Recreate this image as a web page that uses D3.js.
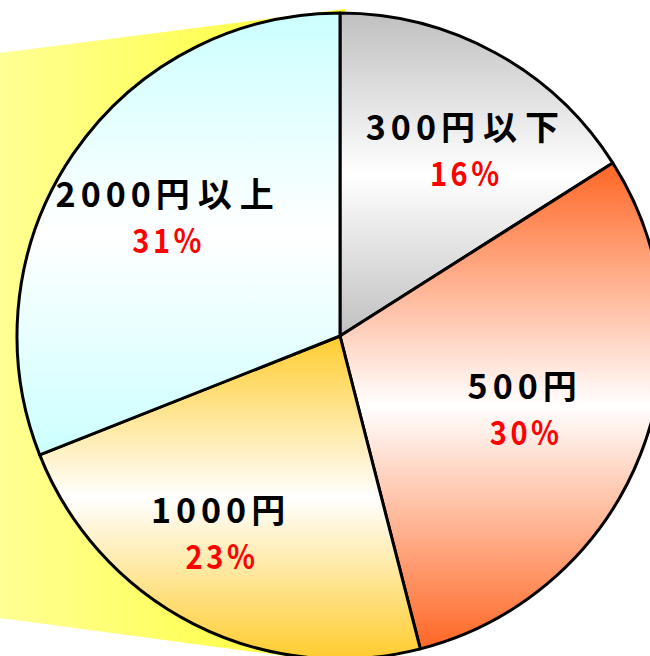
<!DOCTYPE html>
<html><head><meta charset="utf-8">
<script src="https://cdn.jsdelivr.net/npm/d3@7"></script>
<style>html,body{margin:0;padding:0;background:#fff;overflow:hidden}</style>
</head><body>
<svg id="c" width="650" height="656"></svg>
<script>
const categories = ["300円以下", "500円", "1000円", "2000円以上"];
const values = [16, 30, 23, 31];
const percentLabels = ["16%", "30%", "23%", "31%"];
const sliceColors = ["#c0c0c0", "#ff6624", "#ffcc2e", "#ccffff"];
// label placement nudges relative to arc centroid (layout only)
const labelNudge = [[33, -12], [6, 6], [-30, 28], [-11, -6]];

const svg = d3.select("#c");
const cx = 340, cy = 336, R = 323;

const defs = svg.append("defs");
const yg = defs.append("linearGradient").attr("id", "yel").attr("x1", 0).attr("x2", 1).attr("y1", 0).attr("y2", 0);
yg.append("stop").attr("offset", "0%").attr("stop-color", "#ffff94");
yg.append("stop").attr("offset", "100%").attr("stop-color", "#ffff33");

sliceColors.forEach((c, i) => {
  const g = defs.append("linearGradient").attr("id", "g" + i)
    .attr("x1", 0).attr("x2", 0).attr("y1", 0).attr("y2", 1);
  g.append("stop").attr("offset", "0%").attr("stop-color", c);
  g.append("stop").attr("offset", "50%").attr("stop-color", "#ffffff");
  g.append("stop").attr("offset", "100%").attr("stop-color", c);
});

// yellow side panel
svg.append("path")
  .attr("d", "M345,9 L0,53 L0,618 L330,662 Z")
  .attr("fill", "url(#yel)");

const pie = d3.pie().sort(null).value(d => d)(values);
const arc = d3.arc().innerRadius(0).outerRadius(R);
const labelArc = d3.arc().innerRadius(R * 0.6).outerRadius(R * 0.6);

const g = svg.append("g").attr("transform", `translate(${cx},${cy})`);
g.selectAll("path.slice").data(pie).join("path")
  .attr("class", "slice")
  .attr("d", arc)
  .attr("fill", (d, i) => `url(#g${i})`)
  .attr("stroke", "#000")
  .attr("stroke-width", 3)
  .attr("stroke-linejoin", "round");

const font = "'Noto Sans CJK JP', 'Noto Sans', sans-serif";
const lab = g.selectAll("g.lab").data(pie).join("g")
  .attr("class", "lab")
  .attr("transform", (d, i) => {
    const c = labelArc.centroid(d);
    return `translate(${c[0] + labelNudge[i][0]},${c[1] + labelNudge[i][1]})`;
  });

lab.append("text")
  .attr("text-anchor", "middle")
  .attr("y", -14)
  .attr("font-family", font)
  .attr("font-size", 34)
  .attr("font-weight", 700)
  .attr("fill", "#000")
  .each(function(d, i) {
    const t = d3.select(this);
    const s = categories[i];
    const m = s.match(/^(\d+)(.*)$/);
    t.append("tspan").attr("letter-spacing", 5).text(m[1]);
    t.append("tspan").attr("letter-spacing", 8).text(m[2]);
  });

lab.append("text")
  .attr("text-anchor", "middle")
  .attr("transform", "translate(0,32) scale(0.88,1)")
  .attr("font-family", font)
  .attr("font-size", 33)
  .attr("font-weight", 700)
  .attr("letter-spacing", 4)
  .attr("fill", "#ff0000")
  .text((d, i) => percentLabels[i]);
</script>
</body></html>
